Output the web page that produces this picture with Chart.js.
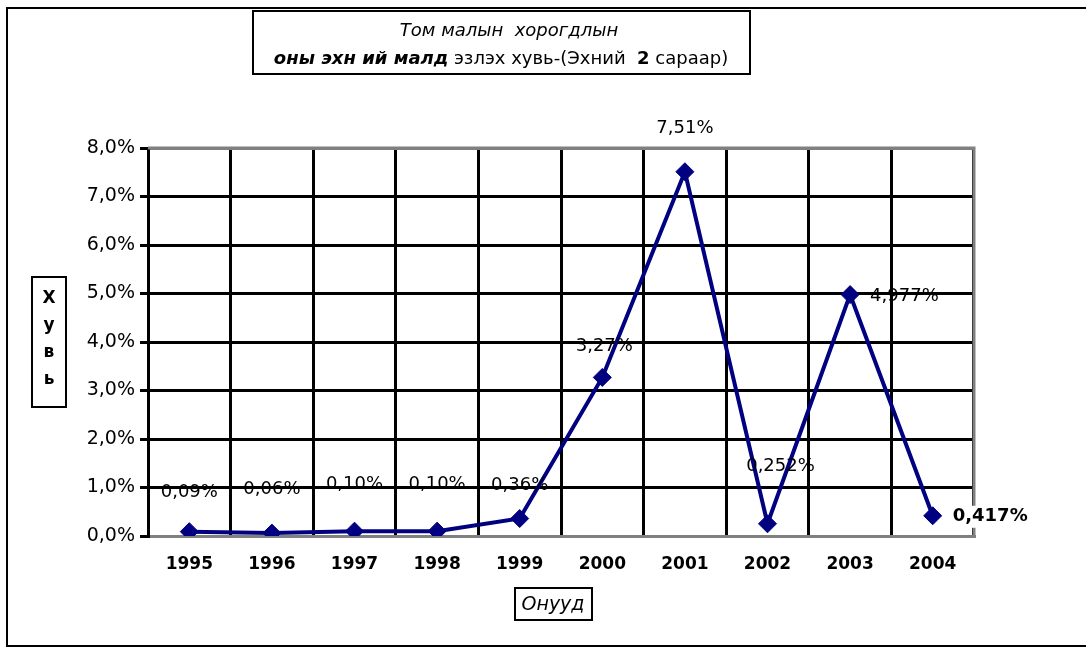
<!DOCTYPE html>
<html>
<head>
<meta charset="utf-8">
<script src="https://cdn.jsdelivr.net/npm/chart.js@4/dist/chart.umd.min.js"></script>
<style>
  html, body { margin: 0; padding: 0; background: #fff; }
  #wrap { width: 1086px; height: 648px; position: relative; }
</style>
</head>
<body>
<div id="wrap"><canvas id="chart"></canvas></div>
<script>
// data
const years = ['1995', '1996', '1997', '1998', '1999', '2000', '2001', '2002', '2003', '2004']
const values = [0.09, 0.06, 0.10, 0.10, 0.36, 3.27, 7.51, 0.252, 4.977, 0.417]
const valueLabels = ['0,09%', '0,06%', '0,10%', '0,10%', '0,36%', '3,27%', '7,51%', '0,252%', '4,977%', '0,417%']
const yTicks = [0, 1, 2, 3, 4, 5, 6, 7, 8]

const titleLine1 = 'Том малын  хорогдлын'
const titleBold = 'оны эхн ий малд'
const titleRest = ' эзлэх хувь-(Эхний  '
const titleNum = '2'
const titleEnd = ' сараар)'
const yTitle = ['Х', 'у', 'в', 'ь']
const xTitle = 'Онууд'

const FONT = '"DejaVu Sans", Arial, sans-serif'

// label offsets from the point (dx, dy, align)
const labelPos = [
  [0, -39, 'center'], [0, -44, 'center'], [0, -47, 'center'], [0, -47, 'center'],
  [0, -33, 'center'], [2, -31, 'center'], [0, -43, 'center'], [13, -57, 'center'],
  [20, 2, 'left'], [20, 1, 'left']
]

const decor = {
  id: 'decor',
  beforeDraw(chart) {
    const ctx = chart.ctx
    ctx.save()
    ctx.fillStyle = '#fff'
    ctx.fillRect(0, 0, chart.width, chart.height)
    ctx.restore()
  },
  beforeDatasetsDraw(chart) {
    const { ctx, chartArea: a } = chart
    ctx.save()
    ctx.strokeStyle = '#808080'
    ctx.lineWidth = 3
    ctx.beginPath()
    ctx.moveTo(a.left, a.top)
    ctx.lineTo(a.right, a.top)
    ctx.lineTo(a.right, a.bottom)
    ctx.stroke()
    ctx.restore()
  },
  afterDraw(chart) {
    const ctx = chart.ctx
    ctx.save()
    // outer frame
    ctx.strokeStyle = '#000'
    ctx.lineWidth = 2
    ctx.strokeRect(7, 8, 1090, 638)

    // title box
    ctx.fillStyle = '#fff'
    ctx.fillRect(253, 11, 497, 63)
    ctx.strokeRect(253, 11, 497, 63)
    ctx.fillStyle = '#000'
    ctx.textBaseline = 'middle'
    ctx.textAlign = 'center'
    ctx.font = 'italic 18px ' + FONT
    ctx.fillText(titleLine1, 509, 31)
    const parts = [
      ['bold italic 18px ', titleBold],
      ['18px ', titleRest],
      ['bold 18px ', titleNum],
      ['18px ', titleEnd]
    ]
    let total = 0
    parts.forEach(p => { ctx.font = p[0] + FONT; total += ctx.measureText(p[1]).width })
    let x = 501 - total / 2
    ctx.textAlign = 'left'
    parts.forEach(p => {
      ctx.font = p[0] + FONT
      ctx.fillText(p[1], x, 59)
      x += ctx.measureText(p[1]).width
    })

    // y title
    ctx.strokeRect(32, 277, 34, 130)
    ctx.textAlign = 'center'
    ctx.font = 'bold 17px ' + FONT
    yTitle.forEach((ch, i) => ctx.fillText(ch, 49, 299 + i * 27))

    // x title
    ctx.strokeRect(515, 588, 77, 32)
    ctx.font = 'italic 19px ' + FONT
    ctx.fillText(xTitle, 553, 605)

    // value labels
    const meta = chart.getDatasetMeta(0)
    meta.data.forEach((pt, i) => {
      const [dx, dy, align] = labelPos[i]
      const last = i === values.length - 1
      ctx.font = (last ? 'bold 18px ' : '18px ') + FONT
      ctx.textAlign = align
      const tx = pt.x + dx, ty = pt.y + dy
      if (last) {
        const w = ctx.measureText(valueLabels[i]).width
        ctx.fillStyle = '#fff'
        ctx.fillRect(tx - 2, ty - 11, w + 4, 22)
      }
      ctx.fillStyle = '#000'
      ctx.fillText(valueLabels[i], tx, ty)
    })
    ctx.restore()
  }
}

new Chart(document.getElementById('chart'), {
  type: 'line',
  data: {
    labels: years,
    datasets: [
      {
        data: values,
        borderColor: '#000080',
        backgroundColor: '#000080',
        borderWidth: 4,
        pointStyle: 'rectRot',
        pointRadius: 9,
        pointBorderWidth: 1,
        pointBackgroundColor: '#000080',
        pointBorderColor: '#000080',
        tension: 0
      }
    ]
  },
  options: {
    responsive: true,
    maintainAspectRatio: false,
    animation: false,
    layout: { padding: { left: 0, top: 148, right: 112, bottom: 0 } },
    plugins: { legend: { display: false }, tooltip: { enabled: false } },
    scales: {
      x: {
        offset: true,
        grid: { offset: true, color: '#000', lineWidth: 3, drawTicks: false },
        border: { color: '#808080', width: 3 },
        ticks: { color: '#000', padding: 18, font: { family: FONT, size: 17, weight: 'bold' } },
        afterFit(s) { s.height = 112 }
      },
      y: {
        min: 0,
        max: 8,
        afterBuildTicks(s) { s.ticks = yTicks.map(v => ({ value: v })) },
        grid: {
          color: c => (c.tick && (c.tick.value === 0 || c.tick.value === 8)) ? '#808080' : '#000',
          tickColor: '#000',
          lineWidth: 3,
          tickLength: 8
        },
        border: { color: '#000', width: 3 },
        ticks: {
          color: '#000',
          padding: 5,
          font: { family: FONT, size: 19 },
          callback: v => v.toFixed(1).replace('.', ',') + '%'
        },
        afterFit(s) { s.width = 148 }
      }
    }
  },
  plugins: [decor]
})
</script>
</body>
</html>
